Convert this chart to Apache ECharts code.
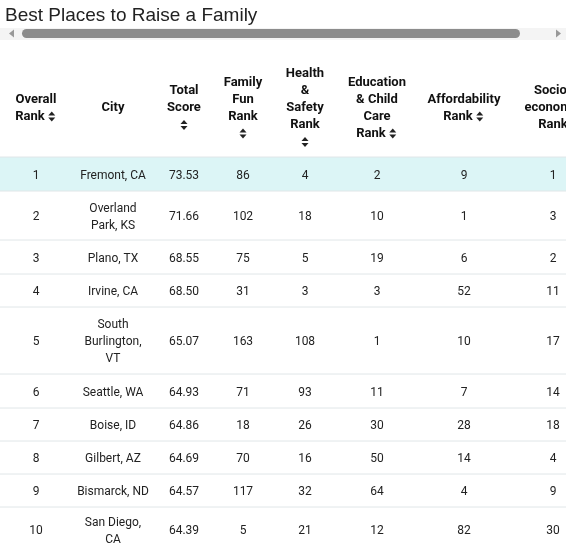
<!DOCTYPE html><html><head><meta charset="utf-8">
<script src="https://cdn.jsdelivr.net/npm/echarts@6/dist/echarts.min.js"></script>
<style>html,body{margin:0;padding:0;background:#fff}#c{width:586px;height:552px}</style></head><body><div id="c"></div>
<script>
const title = 'Best Places to Raise a Family';
const headers = [
  ['Overall','Rank*'], ['City'], ['Total','Score','*'], ['Family','Fun','Rank','*'],
  ['Health','&','Safety','Rank','*'], ['Education','& Child','Care','Rank*'],
  ['Affordability','Rank*'], ['Socio-','economic','Rank']
];
const ranks = [1,2,3,4,5,6,7,8,9,10];
const cities = ['Fremont, CA','Overland\nPark, KS','Plano, TX','Irvine, CA','South\nBurlington,\nVT','Seattle, WA','Boise, ID','Gilbert, AZ','Bismarck, ND','San Diego,\nCA'];
const totalScore = ['73.53','71.66','68.55','68.50','65.07','64.93','64.86','64.69','64.57','64.39'];
const familyFun = [86,102,75,31,163,71,18,70,117,5];
const healthSafety = [4,18,5,3,108,93,26,16,32,21];
const education = [2,10,19,3,1,11,30,50,64,12];
const affordability = [9,1,6,52,10,7,28,14,4,82];
const socioEconomic = [1,3,2,11,17,14,18,4,9,30];

const colX = [36,113,184,243,305,377,464,553];
const rowBounds = [157,191,240,274,307,374,408,441,474,507,558];
const cols = [ranks,cities,totalScore,familyFun,healthSafety,education,affordability,socioEconomic];
const FONT = 'Roboto, "Noto Sans", sans-serif';
const ctx = document.createElement('canvas').getContext('2d');
ctx.font = 'bold 13px ' + FONT;
const els = [];
function sortIcon(cx, cy){
  els.push({type:'polygon',shape:{points:[[cx-3.5,cy-1],[cx+3.5,cy-1],[cx,cy-5]]},style:{fill:'#222'}});
  els.push({type:'polygon',shape:{points:[[cx-3.5,cy+1],[cx+3.5,cy+1],[cx,cy+5]]},style:{fill:'#222'}});
}
els.push({type:'text',x:5,y:16,style:{text:title,font:'19px "Liberation Sans", Arial, sans-serif',fill:'#222',verticalAlign:'middle'}});
els.push({type:'rect',shape:{x:0,y:28,width:566,height:12},style:{fill:'#f4f4f4'}});
els.push({type:'rect',shape:{x:22,y:29,width:498,height:9,r:4.5},style:{fill:'#8c8c8c'}});
els.push({type:'polygon',shape:{points:[[9,33.5],[14,29.5],[14,37.5]]},style:{fill:'#999'}});
els.push({type:'polygon',shape:{points:[[561,33.5],[556,29.5],[556,37.5]]},style:{fill:'#999'}});
headers.forEach((lines,i)=>{
  const n = lines.length; const lh = 17;
  const y0 = 108 - (n-1)*lh/2;
  lines.forEach((t,j)=>{
    const y = y0 + j*lh;
    if (t === '*') { sortIcon(colX[i], y); return; }
    let txt = t, icon = false;
    if (t.endsWith('*')) { txt = t.slice(0,-1); icon = true; }
    const w = ctx.measureText(txt).width;
    const x = icon ? colX[i] - 6 : colX[i];
    els.push({type:'text',x:x,y:y,style:{text:txt,font:'bold 13px '+FONT,fill:'#111',align:'center',verticalAlign:'middle'}});
    if (icon) sortIcon(x + w/2 + 7, y);
  });
});
els.push({type:'rect',shape:{x:0,y:rowBounds[0],width:566,height:rowBounds[1]-rowBounds[0]},style:{fill:'#dcf5f6'}});
for (let r=0;r<rowBounds.length-1;r++){
  els.push({type:'line',shape:{x1:0,y1:rowBounds[r],x2:566,y2:rowBounds[r]},style:{stroke:'#e0e6e8',lineWidth:1}});
  const cy = (rowBounds[r] + Math.min(rowBounds[r+1],552))/2 + 1.5;
  cols.forEach((arr,i)=>{
    els.push({type:'text',x:colX[i],y:cy,style:{text:String(arr[r]),font:'12px '+FONT,fill:'#222',align:'center',verticalAlign:'middle',lineHeight:17}});
  });
}
els.push({type:'rect',shape:{x:566,y:0,width:30,height:552},style:{fill:'#fff'},z:100});
const chart = echarts.init(document.getElementById('c'),null,{renderer:'canvas'});
chart.setOption({animation:false,graphic:{elements:els}});
</script></body></html>
